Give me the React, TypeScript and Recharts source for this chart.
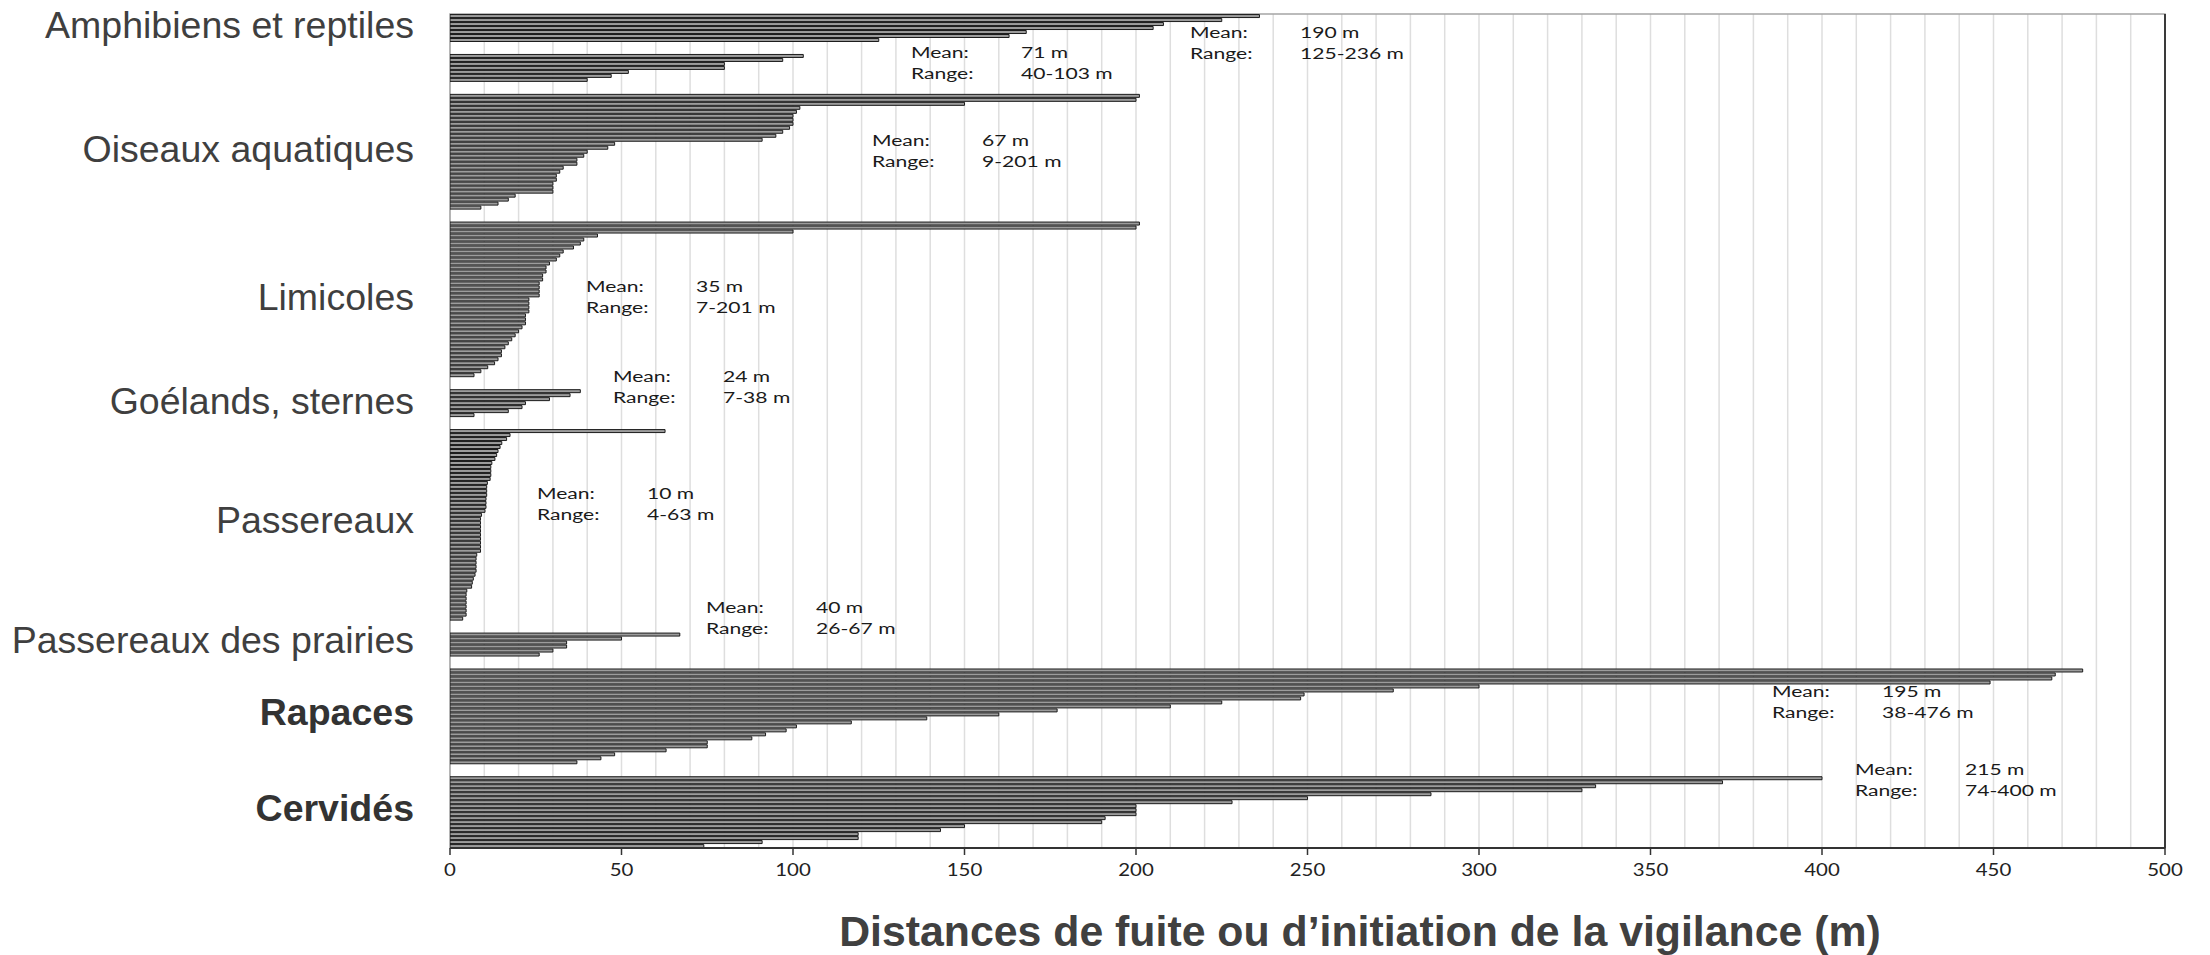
import React from 'react';
import { BarChart, Bar, XAxis, YAxis, CartesianGrid, ReferenceArea, ReferenceLine, Label } from 'recharts';

// ---- data (values in metres) ----
const amphibiensReptilesA = [236, 225, 208, 205, 168, 163, 125];
const amphibiensReptilesB = [103, 97, 80, 80, 52, 47, 40];
const oiseauxAquatiques = [201, 200, 150, 102, 101, 100, 100, 100, 99, 97, 95, 91, 48, 46, 40, 39, 37, 37, 33, 32, 31, 31, 30, 30, 30, 19, 17, 14, 9];
const limicoles = [201, 200, 100, 43, 39, 38, 36, 33, 32, 31, 29, 28, 28, 27, 27, 26, 26, 26, 26, 23, 23, 23, 23, 22, 22, 22, 21, 20, 19, 18, 17, 16, 15, 15, 14, 13, 11, 9, 7];
const goelandsSternes = [38, 35, 29, 22, 21, 17, 7];
const passereaux = [62.7, 17.5, 16.5, 15.1, 14.6, 14, 13.6, 13.1, 12.2, 11.9, 11.9, 11.9, 11.7, 10.9, 10.7, 10.7, 10.7, 10.5, 10.5, 10.5, 10.2, 9.2, 8.9, 8.9, 8.9, 8.9, 8.9, 8.9, 8.9, 8.9, 8.9, 7.8, 7.6, 7.6, 7.6, 7.6, 7.3, 6.8, 6.5, 6.3, 4.9, 4.7, 4.7, 4.7, 4.7, 4.7, 4.7, 3.7];
const passereauxPrairies = [67, 50, 34, 34, 30, 26];
const rapaces = [476, 468, 467, 449, 300, 275, 249, 248, 225, 210, 177, 160, 139, 117, 101, 98, 92, 88, 75, 75, 63, 48, 44, 37];
const cervides = [400, 371, 334, 330, 286, 250, 228, 200, 200, 200, 191, 190, 150, 143, 119, 119, 91, 74];

const groupLabels = ['Amphibiens et reptiles', '', 'Oiseaux aquatiques', 'Limicoles', 'Goélands, sternes', 'Passereaux', 'Passereaux des prairies', 'Rapaces', 'Cervidés'];
const boldLabels = ['Rapaces', 'Cervidés'];
const meanLabels = ['190 m', '71 m', '67 m', '35 m', '24 m', '10 m', '40 m', '195 m', '215 m'];
const rangeLabels = ['125-236 m', '40-103 m', '9-201 m', '7-201 m', '7-38 m', '4-63 m', '26-67 m', '38-476 m', '74-400 m'];
const xTickLabels = [0, 50, 100, 150, 200, 250, 300, 350, 400, 450, 500];
const gridTicks = Array.from({ length: 51 }, (_, i) => i * 10);
const axisTitle = 'Distances de fuite ou d\u2019initiation de la vigilance (m)';

// ---- layout ----
const W = 2194;
const H = 947;
const GAP_SLOTS = 3;
const TICK_SIZE = 7;
const TICK_MARGIN = 9;

// annotation box positions (svg px): left x, baseline of the "Mean" line
const annotationPos = [
  [1182, 30], [903, 50], [864, 138], [578, 284], [605, 374], [529, 491], [698, 605], [1764, 689], [1847, 767],
];

const groups = [amphibiensReptilesA, amphibiensReptilesB, oiseauxAquatiques, limicoles, goelandsSternes, passereaux, passereauxPrairies, rapaces, cervides];

const rows: { slot: string; value: number | null }[] = [];
const labelSlots: string[] = [];
const slotLabel: Record<string, string> = {};
groups.forEach((vals, gi) => {
  vals.forEach((v, i) => rows.push({ slot: `g${gi}-${i}`, value: v }));
  if (groupLabels[gi]) {
    const key = `g${gi}-${Math.floor((vals.length - 1) / 2)}`;
    labelSlots.push(key);
    slotLabel[key] = groupLabels[gi];
  }
  if (gi < groups.length - 1) {
    for (let k = 0; k < GAP_SLOTS; k++) rows.push({ slot: `gap${gi}-${k}`, value: null });
  }
});

const YTick = (props: any) => {
  const { x, y, payload } = props;
  const label = slotLabel[payload.value] || '';
  const bold = boldLabels.includes(label);
  return (
    <text x={x} y={y} dy="0.28em" textAnchor="end" fontFamily="'Liberation Sans', Arial, sans-serif" fontSize={37.5}
      fontWeight={bold ? 'bold' : 'normal'} fill={bold ? '#333333' : '#3f3f3f'}>
      {label}
    </text>
  );
};

const XTick = (props: any) => {
  const { x, y, payload } = props;
  const v = payload.value;
  if (!xTickLabels.includes(v)) return <g />;
  return (
    <g>
      <line x1={x} x2={x} y1={y - TICK_SIZE - TICK_MARGIN} y2={y - TICK_MARGIN} stroke="#333" strokeWidth={1.5} />
      <g transform={`translate(${x},${y})`}>
        <text transform="scale(1.2,1)" dy="0.71em" textAnchor="middle" fontFamily="Lato, 'Open Sans', sans-serif" fontSize={17} fill="#222">
          {v}
        </text>
      </g>
    </g>
  );
};

const TitleLabel = (props: any) => {
  const vb = props.viewBox || {};
  return (
    <text x={vb.x + vb.width * 0.5306} y={vb.y + 98} textAnchor="middle" fontFamily="'Liberation Sans', Arial, sans-serif"
      fontSize={42.8} fontWeight="bold" fill="#404040">
      {axisTitle}
    </text>
  );
};

const annFont = "Lato, 'Open Sans', sans-serif";

export default function App() {
  return (
    <div style={{ position: 'relative', width: W, height: H }}>
      <style>{'svg{overflow:visible}'}</style>
      <BarChart width={W} height={H} data={rows} layout="vertical" margin={{ top: 6, right: 37, bottom: 7, left: 0 }} barCategoryGap="14%">
        <CartesianGrid horizontal={false} stroke="#dedede" strokeWidth={1.5} />
        <XAxis type="number" domain={[0, 500]} ticks={gridTicks} interval={0} allowDataOverflow height={100}
          tickLine={false} tickSize={TICK_SIZE} tickMargin={TICK_MARGIN} tick={<XTick />} axisLine={{ stroke: '#333', strokeWidth: 2 }}>
          <Label content={<TitleLabel />} />
        </XAxis>
        <YAxis type="category" dataKey="slot" width={442} ticks={labelSlots} interval={0} tick={<YTick />}
          tickLine={false} axisLine={false} tickSize={0} tickMargin={36} />
        <ReferenceArea x1={0} x2={500} fill="none" stroke="#a5a5a5" strokeWidth={1.5} />
        <ReferenceLine x={500} stroke="#3a3a3a" strokeWidth={2} />
        <Bar dataKey="value" fill="#9c9c9c" stroke="#1c1c1c" strokeWidth={1} isAnimationActive={false} />
      </BarChart>
      <svg width={W} height={H} style={{ position: 'absolute', left: 0, top: 0, pointerEvents: 'none' }}>
        {annotationPos.map(([ax, ay], i) => (
          <g key={i} fontFamily={annFont} fontSize={15.5} fill="#1a1a1a">
            <g transform={`translate(${ax},${ay}) scale(1.36,1)`}>
              <text x={0} y={0}>Mean:</text>
              <text x={0} y={21}>Range:</text>
            </g>
            <g transform={`translate(${ax + 110},${ay}) scale(1.36,1)`}>
              <text x={0} y={0}>{meanLabels[i]}</text>
              <text x={0} y={21}>{rangeLabels[i]}</text>
            </g>
          </g>
        ))}
      </svg>
    </div>
  );
}
